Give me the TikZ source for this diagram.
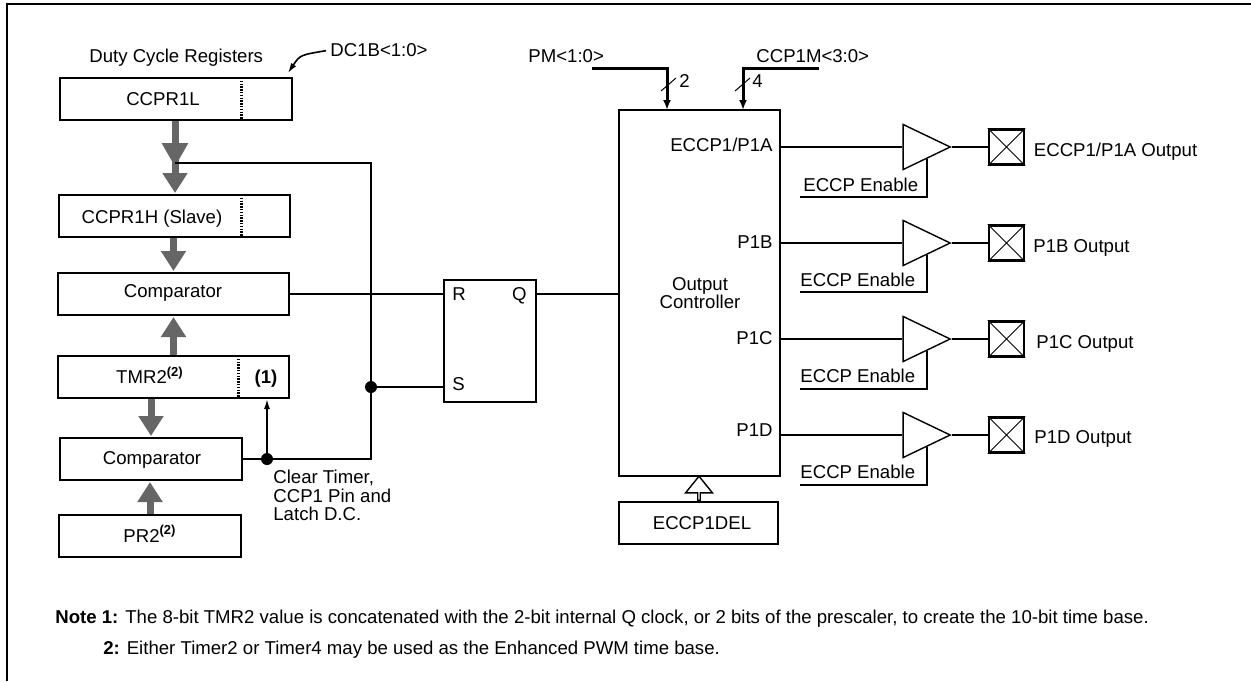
\documentclass[tikz,border=0pt]{standalone}
\usepackage{fontspec}
\setmainfont{Liberation Sans}
\usetikzlibrary{
  arrows.meta,
  shapes.geometric,
  shapes.arrows
}
\tikzset{
  txt/.style      = {inner sep=0pt, text height=6.7pt, text depth=0pt},
  reg/.style      = {draw, line width=1pt, inner sep=0pt, minimum height=21pt},
  wire/.style     = {line width=1pt},
  frameline/.style= {line width=1.2pt},
  dataarrow/.style= {-{Triangle[length=10pt,width=12pt]}, line width=3.5pt,
                     draw=black!60, color=black!60, shorten >=0.5pt},
  businput/.style = {-{Latex[length=5pt,width=4pt]}, line width=1.5pt},
  smallarrow/.style = {-{Latex[length=5pt,width=3pt]}, line width=0.8pt},
  slash/.style    = {line width=0.5pt},
  divider/.style  = {line width=1.5pt, dash pattern=on 0.7pt off 0.7pt},
  junction/.style = {circle, fill=black, inner sep=0pt, minimum size=6pt},
  buffer/.style   = {draw, line width=0.7pt, isosceles triangle,
                     isosceles triangle stretches, inner sep=0pt,
                     minimum width=22.5pt, minimum height=23.5pt, anchor=apex},
  pad/.style      = {draw, line width=1.2pt, inner sep=0pt, minimum size=17.5pt},
  padcross/.style = {line width=0.5pt},
}

\begin{document}
\begin{tikzpicture}[x=0.5pt, y=-0.5pt, font=\fontsize{9.3}{9.2}\selectfont]
\useasboundingbox (0,0) rectangle (1251,681);

\draw[frameline] (7,681) -- (7,4) -- (1251,4);

% duty cycle registers and timer column
\node[txt, anchor=west] (dutytext) at (89,55.7) {Duty Cycle Registers};
\node[txt, anchor=west] (dctext) at (330,50) {DC1B<1:0>};
\node[reg, minimum width=116pt] (ccprl) at (176,98.5) {};
\node[txt] (ccprltext) at (163,99) {CCPR1L};
\node[reg, minimum width=115.5pt] (ccprh) at (174.5,216) {};
\node[txt] (ccprhtext) at (152,217) {CCPR1H (Slave)};
\node[reg, minimum width=115.5pt] (cmpa) at (173.5,294) {};
\node[txt] (cmpatext) at (173,291) {Comparator};
\node[reg, minimum width=115.5pt] (tmr) at (173.5,377) {};
\node[txt] (tmrtext) at (150,377) {TMR2\textsuperscript{\textbf{(2)}}};
\node[txt] (tmrbits) at (266,377) {\textbf{(1)}};
\node[reg, minimum width=91pt] (cmpb) at (151,459) {};
\node[txt] (cmpbtext) at (152,457.5) {Comparator};
\node[reg, minimum width=91pt] (prtwo) at (150,536) {};
\node[txt] (prtwotext) at (150,535.5) {PR2\textsuperscript{\textbf{(2)}}};

\draw[divider] (241,78) -- (241,119);
\draw[divider] (241,195) -- (241,237);
\draw[divider] (238,356) -- (238,398);

\coordinate (dctip) at (288,73);
\draw[smallarrow, shorten <=2pt] (dctext.west) .. controls (300,55) .. (dctip);

% data paths
\coordinate (tap) at (175,163);
\coordinate (merge) at (175,168);
\coordinate (branch) at (175,160);
\draw[dataarrow, -{Triangle[length=12pt,width=12.5pt]}] (ccprl.south -| merge) -- (merge);
\draw[dataarrow] (branch) -- (branch |- ccprh.north);
\draw[dataarrow] (ccprh.south -| cmpa.north) -- (cmpa.north);
\draw[dataarrow] (tmr.north) -- (cmpa.south);
\draw[dataarrow] (tmr.south -| cmpb.north) -- (cmpb.north);
\draw[dataarrow] (prtwo.north) -- (prtwo.north |- cmpb.south);

% clear timer path
\node[junction] (dotclear) at (267,459) {};
\node[junction] (dotset) at (371,387) {};
\node[anchor=north west, inner sep=0pt, align=left] (cleartext) at (273,470)
   {Clear Timer,\\CCP1 Pin and\\Latch D.C.};
\draw[wire] (cmpb.east) -- (dotclear);
\draw[wire] (dotclear) -- (dotclear -| dotset) -- (dotset);
\draw[wire] (dotset) -- (dotset |- tap) -- (tap);
\draw[smallarrow] (dotclear) -- (dotclear |- tmr.south);

% latch
\node[reg, minimum width=46pt, minimum height=61pt] (latch) at (490,341) {};
\node[txt, anchor=west] (rtext) at (452,294) {R};
\node[txt, anchor=east] (qtext) at (527,294) {Q};
\node[txt, anchor=west] (stext) at (452,384) {S};
\draw[wire] (cmpa.east) -- (cmpa.east -| latch.west);
\draw[wire] (dotset) -- (dotset -| latch.west);

% output controller
\node[reg, minimum width=80.5pt, minimum height=183pt] (ctrl) at (699.5,293) {};
\node[anchor=north, inner sep=0pt, align=center] (ctrltext) at (700,277) {Output\\Controller};
\node[txt, anchor=east] (patext) at (773,144.5) {ECCP1/P1A};
\node[txt, anchor=east] (pbtext) at (773,241.7) {P1B};
\node[txt, anchor=east] (pctext) at (773,338) {P1C};
\node[txt, anchor=east] (pdtext) at (773,430) {P1D};
\draw[wire] (latch.east |- qtext) -- (ctrl.west |- qtext);

\node[reg, minimum width=79.5pt] (del) at (698.5,522.5) {};
\node[txt] (deltext) at (702,522.5) {ECCP1DEL};
\node[draw, line width=0.7pt, single arrow, rotate=90, inner sep=0pt,
      minimum height=12pt, minimum width=13.5pt, single arrow head extend=3.5pt,
      single arrow tip angle=78] (delarrow) at (699,489) {};

% mode inputs
\node[txt, anchor=west] (pmtext) at (528,55.5) {PM<1:0>};
\node[txt, anchor=west] (ccpmtext) at (756,55.5) {CCP1M<3:0>};
\coordinate (pmin) at (592,68);
\coordinate (pmend) at (667,110);
\coordinate (ccpmin) at (819,68);
\coordinate (ccpmend) at (743,110);
\draw[businput] (pmin) -| (pmend);
\draw[businput] (ccpmin) -| (ccpmend);
\draw[slash] (661,91) -- (676,78);
\draw[slash] (735,91) -- (750,78);
\node[txt, anchor=west] (pmwidth) at (679,81) {2};
\node[txt, anchor=west] (ccpmwidth) at (752,81) {4};

% output A
\node[buffer] (bufa) at (952,147) {};
\node[pad] (pada) at (1006.5,147) {};
\draw[padcross] (pada.north west) -- (pada.south east);
\draw[padcross] (pada.south west) -- (pada.north east);
\node[txt, anchor=west] (outa) at (1033.5,149.5) {ECCP1/P1A Output};
\node[txt, anchor=west] (ena) at (803,184.5) {ECCP Enable};
\coordinate (enaline) at (800,197);
\draw[wire] (bufa.lower side -| ctrl.east) -- (bufa.lower side);
\draw[wire] (bufa.apex) -- (pada.west);
\draw[wire] (enaline) -| (bufa.right side);

% output B
\node[buffer] (bufb) at (952,243) {};
\node[pad] (padb) at (1006.5,243) {};
\draw[padcross] (padb.north west) -- (padb.south east);
\draw[padcross] (padb.south west) -- (padb.north east);
\node[txt, anchor=west] (outb) at (1033,245.5) {P1B Output};
\node[txt, anchor=west] (enb) at (800,280) {ECCP Enable};
\coordinate (enbline) at (800,292);
\draw[wire] (bufb.lower side -| ctrl.east) -- (bufb.lower side);
\draw[wire] (bufb.apex) -- (padb.west);
\draw[wire] (enbline) -| (bufb.right side);

% output C
\node[buffer] (bufc) at (952,339) {};
\node[pad] (padc) at (1006.5,339) {};
\draw[padcross] (padc.north west) -- (padc.south east);
\draw[padcross] (padc.south west) -- (padc.north east);
\node[txt, anchor=west] (outc) at (1036,341.5) {P1C Output};
\node[txt, anchor=west] (enc) at (800,376) {ECCP Enable};
\coordinate (encline) at (800,389);
\draw[wire] (bufc.lower side -| ctrl.east) -- (bufc.lower side);
\draw[wire] (bufc.apex) -- (padc.west);
\draw[wire] (encline) -| (bufc.right side);

% output D
\node[buffer] (bufd) at (952,435) {};
\node[pad] (padd) at (1006.5,435) {};
\draw[padcross] (padd.north west) -- (padd.south east);
\draw[padcross] (padd.south west) -- (padd.north east);
\node[txt, anchor=west] (outd) at (1034,436.5) {P1D Output};
\node[txt, anchor=west] (end) at (800,472) {ECCP Enable};
\coordinate (endline) at (800,485);
\draw[wire] (bufd.lower side -| ctrl.east) -- (bufd.lower side);
\draw[wire] (bufd.apex) -- (padd.west);
\draw[wire] (endline) -| (bufd.right side);

% notes
\node[txt, anchor=west] (noteone) at (55,616.5)
   {\textbf{Note 1:} The 8-bit TMR2 value is concatenated with the 2-bit internal Q clock, or 2 bits of the prescaler, to create the 10-bit time base.};
\node[txt, anchor=west] (notetwo) at (103,648)
   {\textbf{2:} Either Timer2 or Timer4 may be used as the Enhanced PWM time base.};
\end{tikzpicture}
\end{document}
